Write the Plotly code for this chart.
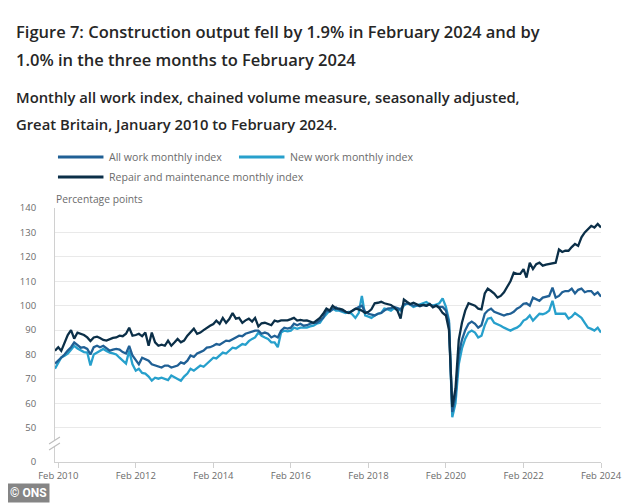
import pandas as pd
import plotly.graph_objects as go

# ---------------- data (monthly, Jan 2010 - Feb 2024) ----------------
START_MONTH = "2010-01-01"

all_work = [
    76.3, 77.5, 78.8, 80.0, 81.6, 83.0, 85.0, 84.0, 82.8, 83.0, 82.3, 80.0,   # 2010
    83.0, 83.6, 83.0, 83.6, 82.5, 81.6, 82.0, 82.3, 82.0, 81.0, 80.4, 83.5,   # 2011
    79.6, 77.5, 76.0, 78.7, 78.0, 77.5, 76.0, 75.5, 75.0, 74.7, 75.5, 75.5,   # 2012
    74.7, 75.0, 75.5, 76.8, 76.3, 77.5, 79.6, 79.0, 80.4, 81.0, 81.6, 82.8,   # 2013
    83.0, 83.6, 84.3, 84.0, 85.0, 85.7, 85.5, 86.4, 87.0, 87.7, 87.5, 88.5,   # 2014
    89.0, 89.5, 89.8, 89.8, 88.5, 89.0, 88.5, 87.0, 87.7, 87.0, 89.8, 91.0,   # 2015
    90.6, 91.0, 92.6, 92.0, 92.6, 91.8, 92.0, 92.6, 93.0, 93.0, 94.0, 95.0,   # 2016
    98.0, 97.5, 98.5, 99.3, 98.4, 98.0, 97.5, 97.0, 97.8, 98.8, 99.5, 100.0,  # 2017
    97.5, 96.7, 96.5, 96.0, 96.7, 97.0, 98.0, 98.8, 99.0, 99.5, 99.0, 98.5,   # 2018
    100.5, 101.0, 100.5, 100.0, 100.2, 99.8, 100.3, 100.0, 100.5, 99.8, 100.0, 99.5,  # 2019
    99.5, 98.0, 93.0, 56.5, 63.0, 80.0, 86.0, 90.0, 92.6, 93.5, 92.6, 91.0,   # 2020
    92.0, 96.7, 98.0, 98.8, 97.5, 97.0, 96.5, 96.0, 96.5, 96.7, 97.5, 98.8,   # 2021
    99.5, 100.8, 101.0, 100.0, 103.3, 102.5, 102.0, 103.3, 103.5, 104.0, 107.4, 103.3,  # 2022
    104.0, 105.5, 106.0, 106.0, 107.0, 105.0, 106.5, 107.0, 105.5, 106.0, 106.0, 104.5,  # 2023
    105.5, 103.7,                                                              # 2024
]

new_work = [
    74.2, 76.5, 78.8, 79.5, 80.4, 82.0, 83.6, 82.5, 81.6, 81.0, 80.8, 75.5,   # 2010
    80.0, 80.8, 81.5, 82.3, 81.5, 80.8, 80.5, 80.0, 78.7, 77.5, 76.3, 81.6,   # 2011
    76.0, 73.4, 74.2, 72.5, 72.2, 71.0, 69.3, 70.5, 70.1, 70.5, 70.0, 69.5,   # 2012
    71.4, 70.5, 70.0, 69.3, 71.0, 72.2, 74.2, 73.4, 74.5, 75.5, 75.0, 76.3,   # 2013
    77.5, 78.7, 78.4, 79.5, 80.8, 80.4, 81.5, 82.8, 82.5, 83.5, 84.3, 84.0,   # 2014
    85.5, 86.4, 87.0, 89.0, 87.7, 87.0, 86.4, 85.0, 85.0, 83.0, 89.0, 89.8,   # 2015
    89.5, 89.8, 91.0, 90.5, 91.0, 91.0, 91.0, 91.5, 91.8, 92.6, 93.0, 95.0,   # 2016
    96.7, 98.0, 98.8, 98.0, 98.0, 97.5, 97.0, 97.5, 96.5, 95.0, 97.0, 104.0,  # 2017
    96.0, 95.5, 95.0, 96.0, 96.7, 97.0, 98.8, 98.5, 98.0, 99.0, 98.5, 98.0,   # 2018
    100.0, 101.0, 100.5, 99.5, 100.0, 100.5, 101.0, 101.5, 100.5, 100.0, 100.5, 101.0,  # 2019
    103.0, 99.5, 94.0, 54.3, 60.0, 76.0, 82.5, 86.5, 89.0, 89.8, 89.0, 87.0,  # 2020
    87.7, 92.0, 94.7, 95.0, 93.0, 92.5, 91.8, 91.0, 90.5, 89.8, 90.5, 91.0,   # 2021
    92.0, 93.9, 94.5, 96.0, 93.9, 95.5, 96.7, 96.5, 97.0, 98.0, 102.0, 96.7,  # 2022
    96.7, 96.5, 96.7, 94.7, 95.5, 97.0, 96.0, 95.0, 93.0, 91.0, 90.5, 89.8,   # 2023
    91.0, 89.0,                                                                # 2024
]

repair_maintenance = [
    81.6, 83.0, 81.5, 85.0, 88.0, 90.0, 86.5, 89.0, 88.5, 88.0, 87.0, 85.5,   # 2010
    87.0, 87.3, 86.8, 86.0, 85.7, 86.4, 86.8, 87.0, 87.7, 87.5, 88.5, 91.0,   # 2011
    87.7, 88.0, 88.5, 87.5, 89.0, 83.6, 89.0, 85.0, 83.6, 84.0, 83.6, 85.7,   # 2012
    83.6, 85.0, 86.4, 85.0, 85.7, 87.7, 89.0, 90.6, 88.5, 89.0, 90.0, 91.0,   # 2013
    91.8, 92.5, 93.9, 92.6, 95.0, 93.0, 94.5, 97.0, 94.7, 95.0, 93.0, 94.0,   # 2014
    94.7, 93.5, 95.0, 91.5, 92.8, 93.0, 92.6, 92.0, 93.9, 93.5, 94.0, 93.9,   # 2015
    94.0, 94.5, 95.0, 93.9, 94.2, 93.9, 94.0, 93.5, 93.0, 94.0, 95.0, 96.7,   # 2016
    98.8, 98.0, 100.0, 98.8, 98.8, 98.4, 97.5, 97.0, 98.0, 98.8, 98.5, 98.0,  # 2017
    97.0, 97.5, 98.5, 101.0, 101.2, 101.6, 101.0, 100.7, 100.3, 99.3, 98.0, 94.7,  # 2018
    102.5, 101.5, 100.7, 101.2, 100.5, 100.0, 100.3, 100.0, 100.7, 99.3, 100.0, 99.0,  # 2019
    97.0, 96.0, 90.0, 58.5, 66.0, 86.0, 93.0, 98.0, 101.0, 100.5, 100.0, 98.8,  # 2020
    98.5, 105.0, 107.0, 106.0, 105.0, 103.3, 104.0, 105.5, 108.0, 110.0, 113.5, 113.0,  # 2021
    113.0, 115.0, 111.5, 117.6, 115.0, 117.0, 117.6, 116.4, 116.8, 117.0, 117.2, 117.6,  # 2022
    123.0, 122.0, 122.5, 122.5, 124.0, 125.3, 124.5, 128.0, 130.0, 131.5, 132.7, 132.0,  # 2023
    133.5, 132.0,                                                              # 2024
]

series_names = ["All work monthly index", "New work monthly index",
                "Repair and maintenance monthly index"]

x_tick_values = ["2010-02-01", "2012-02-01", "2014-02-01", "2016-02-01",
                 "2018-02-01", "2020-02-01", "2022-02-01", "2024-02-01"]
x_tick_labels = ["Feb 2010", "Feb 2012", "Feb 2014", "Feb 2016",
                 "Feb 2018", "Feb 2020", "Feb 2022", "Feb 2024"]

y_tick_values = [36, 50, 60, 70, 80, 90, 100, 110, 120, 130, 140]
y_tick_labels = ["0", "50", "60", "70", "80", "90", "100", "110", "120", "130", "140"]

assert len(all_work) == len(new_work) == len(repair_maintenance) == 170
months = pd.date_range(START_MONTH, periods=len(all_work), freq="MS")

# ---------------- styling ----------------
FONT = "Open Sans"
C_ALL = "#206095"
C_NEW = "#27a0cc"
C_REP = "#0b2f48"
GRID = "#e9e9e9"
AXIS = "#d0d0d0"
TEXT_GREY = "#6b6b6b"

OFF = 8                      # default page (body) margin
W, H = 634 - OFF, 503 - OFF
ML, MR, MT, MB = 52 - OFF, 30, 208 - OFF, 41
PW, PH = W - ML - MR, H - MT - MB


def px(xp):
    """page x pixel -> paper fraction"""
    return (xp - OFF - ML) / PW


def py(yp):
    """page y pixel -> paper fraction"""
    return (H - MB - (yp - OFF)) / PH


fig = go.Figure()
for vals, name, col in [(new_work, series_names[1], C_NEW),
                        (all_work, series_names[0], C_ALL),
                        (repair_maintenance, series_names[2], C_REP)]:
    fig.add_trace(go.Scatter(x=months, y=vals, mode="lines", name=name,
                             line=dict(color=col, width=2.3), showlegend=False))

annotations = []
shapes = []

# titles
title_style = dict(family=FONT, size=16.5, color="#262626", weight=600)
sub_style = dict(family=FONT, size=14.8, color="#262626", weight=600)
for txt, yy, st in [
    ("Figure 7: Construction output fell by 1.9% in February 2024 and by", 32, title_style),
    ("1.0% in the three months to February 2024", 60, title_style),
    ("Monthly all work index, chained volume measure, seasonally adjusted,", 97, sub_style),
    ("Great Britain, January 2010 to February 2024.", 124, sub_style),
]:
    annotations.append(dict(text=txt, x=px(11), y=py(yy), xref="paper", yref="paper",
                            xanchor="left", yanchor="middle", showarrow=False, font=st))

# custom legend
for (name, col), (lx, ly) in zip([(series_names[0], C_ALL), (series_names[1], C_NEW),
                                   (series_names[2], C_REP)],
                                  [(55, 157), (238, 157), (55, 177)]):
    shapes.append(dict(type="line", xref="paper", yref="paper",
                       x0=px(lx), x1=px(lx + 46), y0=py(ly), y1=py(ly),
                       line=dict(color=col, width=3)))
    annotations.append(dict(text=name, x=px(lx + 50), y=py(ly), xref="paper", yref="paper",
                            xanchor="left", yanchor="middle", showarrow=False,
                            font=dict(family=FONT, size=10.6, color=TEXT_GREY)))

# y axis title
annotations.append(dict(text="Percentage points", x=px(51), y=py(199), xref="paper", yref="paper",
                        xanchor="left", yanchor="middle", showarrow=False,
                        font=dict(family=FONT, size=10.3, color=TEXT_GREY)))

# axis break marks
shapes.append(dict(type="path", xref="paper", yref="paper",
                   path=f"M {px(45)} {py(444)} L {px(58)} {py(436)} L {px(58)} {py(442)} L {px(45)} {py(450)} Z",
                   fillcolor="white", line=dict(width=0)))
for yo in (0, 6):
    shapes.append(dict(type="line", xref="paper", yref="paper",
                       x0=px(46), y0=py(444 + yo), x1=px(57), y1=py(437 + yo),
                       line=dict(color="#bdbdbd", width=1.2)))

# ONS badge
annotations.append(dict(text="<b>© ONS</b>", x=px(3), y=py(503), xref="paper", yref="paper",
                        xanchor="left", yanchor="bottom", showarrow=False,
                        bgcolor="#858585", borderpad=2,
                        font=dict(family="Roboto", size=12, color="white")))

fig.update_layout(
    width=W, height=H,
    margin=dict(l=ML, r=MR, t=MT, b=MB, pad=0),
    paper_bgcolor="white", plot_bgcolor="white",
    font=dict(family=FONT, size=9.5, color=TEXT_GREY),
    annotations=annotations, shapes=shapes,
    showlegend=False,
)
fig.update_xaxes(
    type="date", range=[months[0], months[-1]],
    tickvals=x_tick_values, ticktext=x_tick_labels,
    showgrid=False, zeroline=False,
    showline=True, linecolor=AXIS, linewidth=1,
    ticks="outside", ticklen=5, tickcolor=AXIS,
    tickfont=dict(family=FONT, size=9.5, color=TEXT_GREY),
)
fig.update_yaxes(
    range=[36, 140],
    tickvals=y_tick_values, ticktext=y_tick_labels,
    showgrid=True, gridcolor=GRID, gridwidth=1, zeroline=False,
    showline=True, linecolor=AXIS, linewidth=1,
    ticks="", ticklabelstandoff=16,
    tickfont=dict(family=FONT, size=9.5, color=TEXT_GREY),
)

fig.write_html("out.html")
